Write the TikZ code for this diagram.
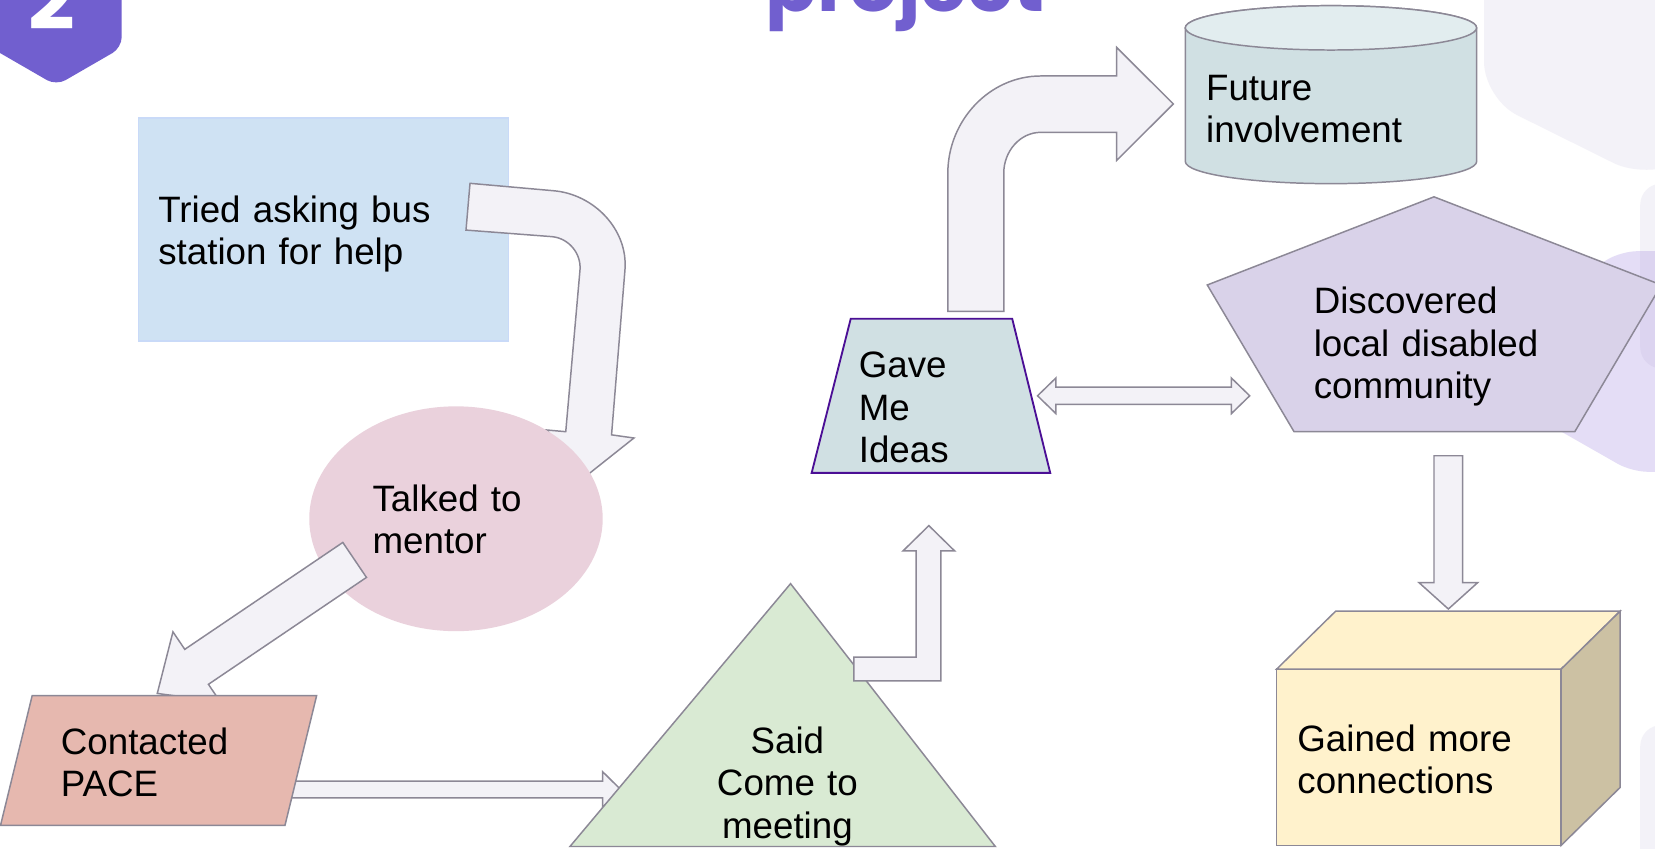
\documentclass[tikz,border=0pt]{standalone}
\usepackage{fontspec}
\setmainfont{Liberation Sans}
\newfontfamily\brandfont{Poppins}
\usetikzlibrary{calc}
\usetikzlibrary{shapes.geometric}

\definecolor{busBlue}{HTML}{CFE2F3}
\definecolor{busEdge}{HTML}{C9DAF8}
\definecolor{mentorPink}{HTML}{EAD1DC}
\definecolor{pacePink}{HTML}{E6B8AF}
\definecolor{sayGreen}{HTML}{D9EAD3}
\definecolor{ideaTeal}{HTML}{D0E0E3}
\definecolor{ideaEdge}{HTML}{4B0F95}
\definecolor{cylTop}{HTML}{E2EDEF}
\definecolor{pentLilac}{HTML}{D9D2E9}
\definecolor{cubeFront}{HTML}{FFF2CC}
\definecolor{cubeSide}{HTML}{CCC1A3}
\definecolor{arrowFill}{HTML}{F3F2F7}
\definecolor{lineGray}{HTML}{8C8896}
\definecolor{bgGray}{HTML}{F3F2F8}
\definecolor{bgLav}{HTML}{E4DDF6}
\definecolor{bgOverlap}{HTML}{DCD4F0}
\definecolor{brandPurple}{HTML}{715FCF}

\newcommand{\bodysize}{\fontsize{9.9pt}{11.4pt}\selectfont}
\newcommand{\topstrut}{\rule{0pt}{10.8pt}}
% straight block arrow: from, to, half shaft, half head, head length
\newcommand{\fatarrow}[5]{%
  \coordinate (fa-base) at ($(#2)!#5!(#1)$);
  \draw[blockarrow] ($(#1)!#3!90:(#2)$) -- ($(fa-base)!#3!90:(#2)$) -- ($(fa-base)!#4!90:(#2)$)
    -- (#2) -- ($(fa-base)!#4!-90:(#2)$) -- ($(fa-base)!#3!-90:(#2)$) -- ($(#1)!#3!-90:(#2)$) -- cycle;
}

\begin{document}
\begin{tikzpicture}[x=1mm, y=-1mm,
  blockarrow/.style={fill=arrowFill, draw=lineGray, line width=0.4pt, line join=miter},
  shapeedge/.style={draw=lineGray, line width=0.4pt},
  boxtext/.style={anchor=west, align=left, text width=30mm, inner sep=0pt, font=\bodysize,
    execute at begin node=\topstrut, execute at end node=\strut}]

\path[use as bounding box] (0,0) rectangle (156.8,80.4);
\clip (0,0) rectangle (156.8,80.4);
\fill[white] (0,0) rectangle (156.8,80.4);

% slide background
\fill[bgGray, rounded corners=3.5mm] (140.6,-10) -- (140.6,9.35) -- (156,17.0) -- (175,7.5) -- (175,-10) -- cycle;
\fill[bgGray, rounded corners=2mm] (155.4,17.4) rectangle (175,34.9);
\fill[bgLav, rounded corners=1.5mm] (146.0,28.4) -- (153.6,23.8) -- (175,23.8) -- (175,44.7) -- (154.6,44.7) -- (146.0,39.8) -- cycle;
\begin{scope}
  \clip[rounded corners=1.5mm] (146.0,28.4) -- (153.6,23.8) -- (175,23.8) -- (175,44.7) -- (154.6,44.7) -- (146.0,39.8) -- cycle;
  \fill[bgOverlap, rounded corners=2mm] (155.4,17.4) rectangle (175,34.9);
\end{scope}
\fill[bgGray, rounded corners=2mm] (155.4,68.7) rectangle (175,95);

\fill[brandPurple, rounded corners=1mm] (5.33,8.1) -- (11.53,4.52) -- (11.53,-3) -- (5.33,-6.6) -- (-0.87,-3) -- (-0.87,4.52) -- cycle;
\node[anchor=base, inner sep=0pt, text=white, font=\brandfont\bfseries\fontsize{22pt}{24pt}\selectfont] (badge) at (4.87,2.84) {2};
\node[anchor=base, inner sep=0pt, text=brandPurple, font=\brandfont\bfseries\fontsize{20.5pt}{24pt}\selectfont] (title) at (85.75,1.1) {project};

% boxes and arrows
\node[draw=busEdge, fill=busBlue, line width=0.4pt, minimum width=35.1mm, minimum height=21.1mm,
  text width=31.3mm, inner xsep=1.9mm, inner ysep=0pt, align=left, font=\bodysize,
  execute at begin node=\topstrut, execute at end node=\strut] (bus) at (30.65,21.75) {Tried asking bus\\station for help};

\coordinate (mentorIn) at (55.4,45.2);
\draw[blockarrow] (44.53,17.37) -- (52.42,18.07) .. controls (56.26,18.38) and (59.52,21.74) .. (59.21,25.58)
  -- (57.94,41.2) -- (60.06,41.5) -- (mentorIn) -- (51.8,40.74) -- (53.6,40.9) -- (54.95,25.58)
  .. controls (55.08,23.99) and (53.86,22.55) .. (52.27,22.42) -- (44.15,21.8) -- cycle;

\node[ellipse, fill=mentorPink, minimum width=27.8mm, minimum height=21.3mm, text width=15.8mm,
  inner sep=0pt, align=left, font=\bodysize,
  execute at begin node=\topstrut, execute at end node=\strut] (mentor) at (43.2,49.15) {Talked to\\mentor};

\coordinate (mentorOut) at (33.6,53.05);
\coordinate (paceIn) at (14.9,65.7);
\fatarrow{mentorOut}{paceIn}{2.0mm}{4.0mm}{4.5mm}

\coordinate (paceOut) at (27.0,74.8);
\coordinate (meetingIn) at (58.8,74.8);
\fatarrow{paceOut}{meetingIn}{0.8mm}{1.68mm}{1.7mm}

\draw[shapeedge, fill=pacePink] (3.05,65.9) -- (30.0,65.9) -- (27.0,78.2) -- (0.05,78.2) -- cycle;
\node[boxtext] (pace) at (5.7,72.15) {Contacted\\PACE};

\draw[shapeedge, fill=sayGreen] (74.9,55.3) -- (94.3,80.2) -- (54.0,80.2) -- cycle;
\node[boxtext, anchor=center, align=center] (meeting) at (74.6,74.1) {Said\\Come to\\meeting};

\coordinate (ideasIn) at (88.0,49.8);
\draw[blockarrow] (80.9,62.25) -- (86.8,62.25) -- (86.8,52.2) -- (85.55,52.2) -- (ideasIn)
  -- (90.45,52.2) -- (89.15,52.2) -- (89.15,64.5) -- (80.9,64.5) -- cycle;

\draw[draw=ideaEdge, line width=0.5pt, fill=ideaTeal] (80.6,30.2) -- (95.9,30.2) -- (99.5,44.8) -- (76.9,44.8) -- cycle;
\node[boxtext] (ideas) at (81.3,38.5) {Gave\\Me\\Ideas};

\coordinate (futureIn) at (111.16,9.85);
\draw[blockarrow] (89.8,29.5) -- (89.8,16.4) .. controls (89.8,11.43) and (93.74,7.2) .. (98.6,7.2)
  -- (105.8,7.2) -- (105.8,4.5) -- (futureIn) -- (105.8,15.2) -- (105.8,12.54) -- (98.6,12.54)
  .. controls (96.67,12.54) and (95.1,14.3) .. (95.1,16.4) -- (95.1,29.5) -- cycle;

\coordinate (ideasSide) at (98.3,37.5);
\coordinate (communitySide) at (118.4,37.5);
\coordinate (ea) at ($(ideasSide)!1.74mm!(communitySide)$);
\coordinate (eb) at ($(communitySide)!1.74mm!(ideasSide)$);
\draw[blockarrow] (ideasSide) -- ($(ea)!1.69mm!90:(communitySide)$) -- ($(ea)!0.82mm!90:(communitySide)$)
  -- ($(eb)!0.82mm!90:(communitySide)$) -- ($(eb)!1.69mm!90:(communitySide)$) -- (communitySide)
  -- ($(eb)!1.69mm!-90:(communitySide)$) -- ($(eb)!0.82mm!-90:(communitySide)$)
  -- ($(ea)!0.82mm!-90:(communitySide)$) -- ($(ea)!1.69mm!-90:(communitySide)$) -- cycle;

\draw[shapeedge, fill=ideaTeal] (112.3,2.64) -- (112.3,15.3)
  arc[start angle=180, end angle=360, x radius=13.8mm, y radius=2.1mm] -- (139.9,2.64)
  arc[start angle=0, end angle=180, x radius=13.8mm, y radius=2.1mm] -- cycle;
\draw[shapeedge, fill=cylTop] (126.1,2.64) ellipse[x radius=13.8mm, y radius=2.1mm];
\node[boxtext] (future) at (114.2,10.2) {Future\\involvement};

\draw[shapeedge, fill=pentLilac] (135.86,18.65) -- (157.4,27.0) -- (149.2,40.9) -- (122.6,40.9) -- (114.38,27.0) -- cycle;
\node[boxtext] (community) at (124.4,32.45) {Discovered\\local disabled\\community};

\coordinate (communityOut) at (137.22,43.18);
\coordinate (linksIn) at (137.22,57.7);
\fatarrow{communityOut}{linksIn}{1.36mm}{2.78mm}{2.5mm}

\draw[shapeedge, fill=cubeFront] (120.95,63.4) rectangle (147.9,80.1);
\draw[shapeedge, fill=cubeFront] (120.95,63.4) -- (126.55,57.9) -- (153.5,57.9) -- (147.9,63.4) -- cycle;
\draw[shapeedge, fill=cubeSide] (147.9,63.4) -- (153.5,57.9) -- (153.5,74.6) -- (147.9,80.1) -- cycle;
\node[boxtext] (links) at (122.85,71.9) {Gained more\\connections};

\end{tikzpicture}
\end{document}
